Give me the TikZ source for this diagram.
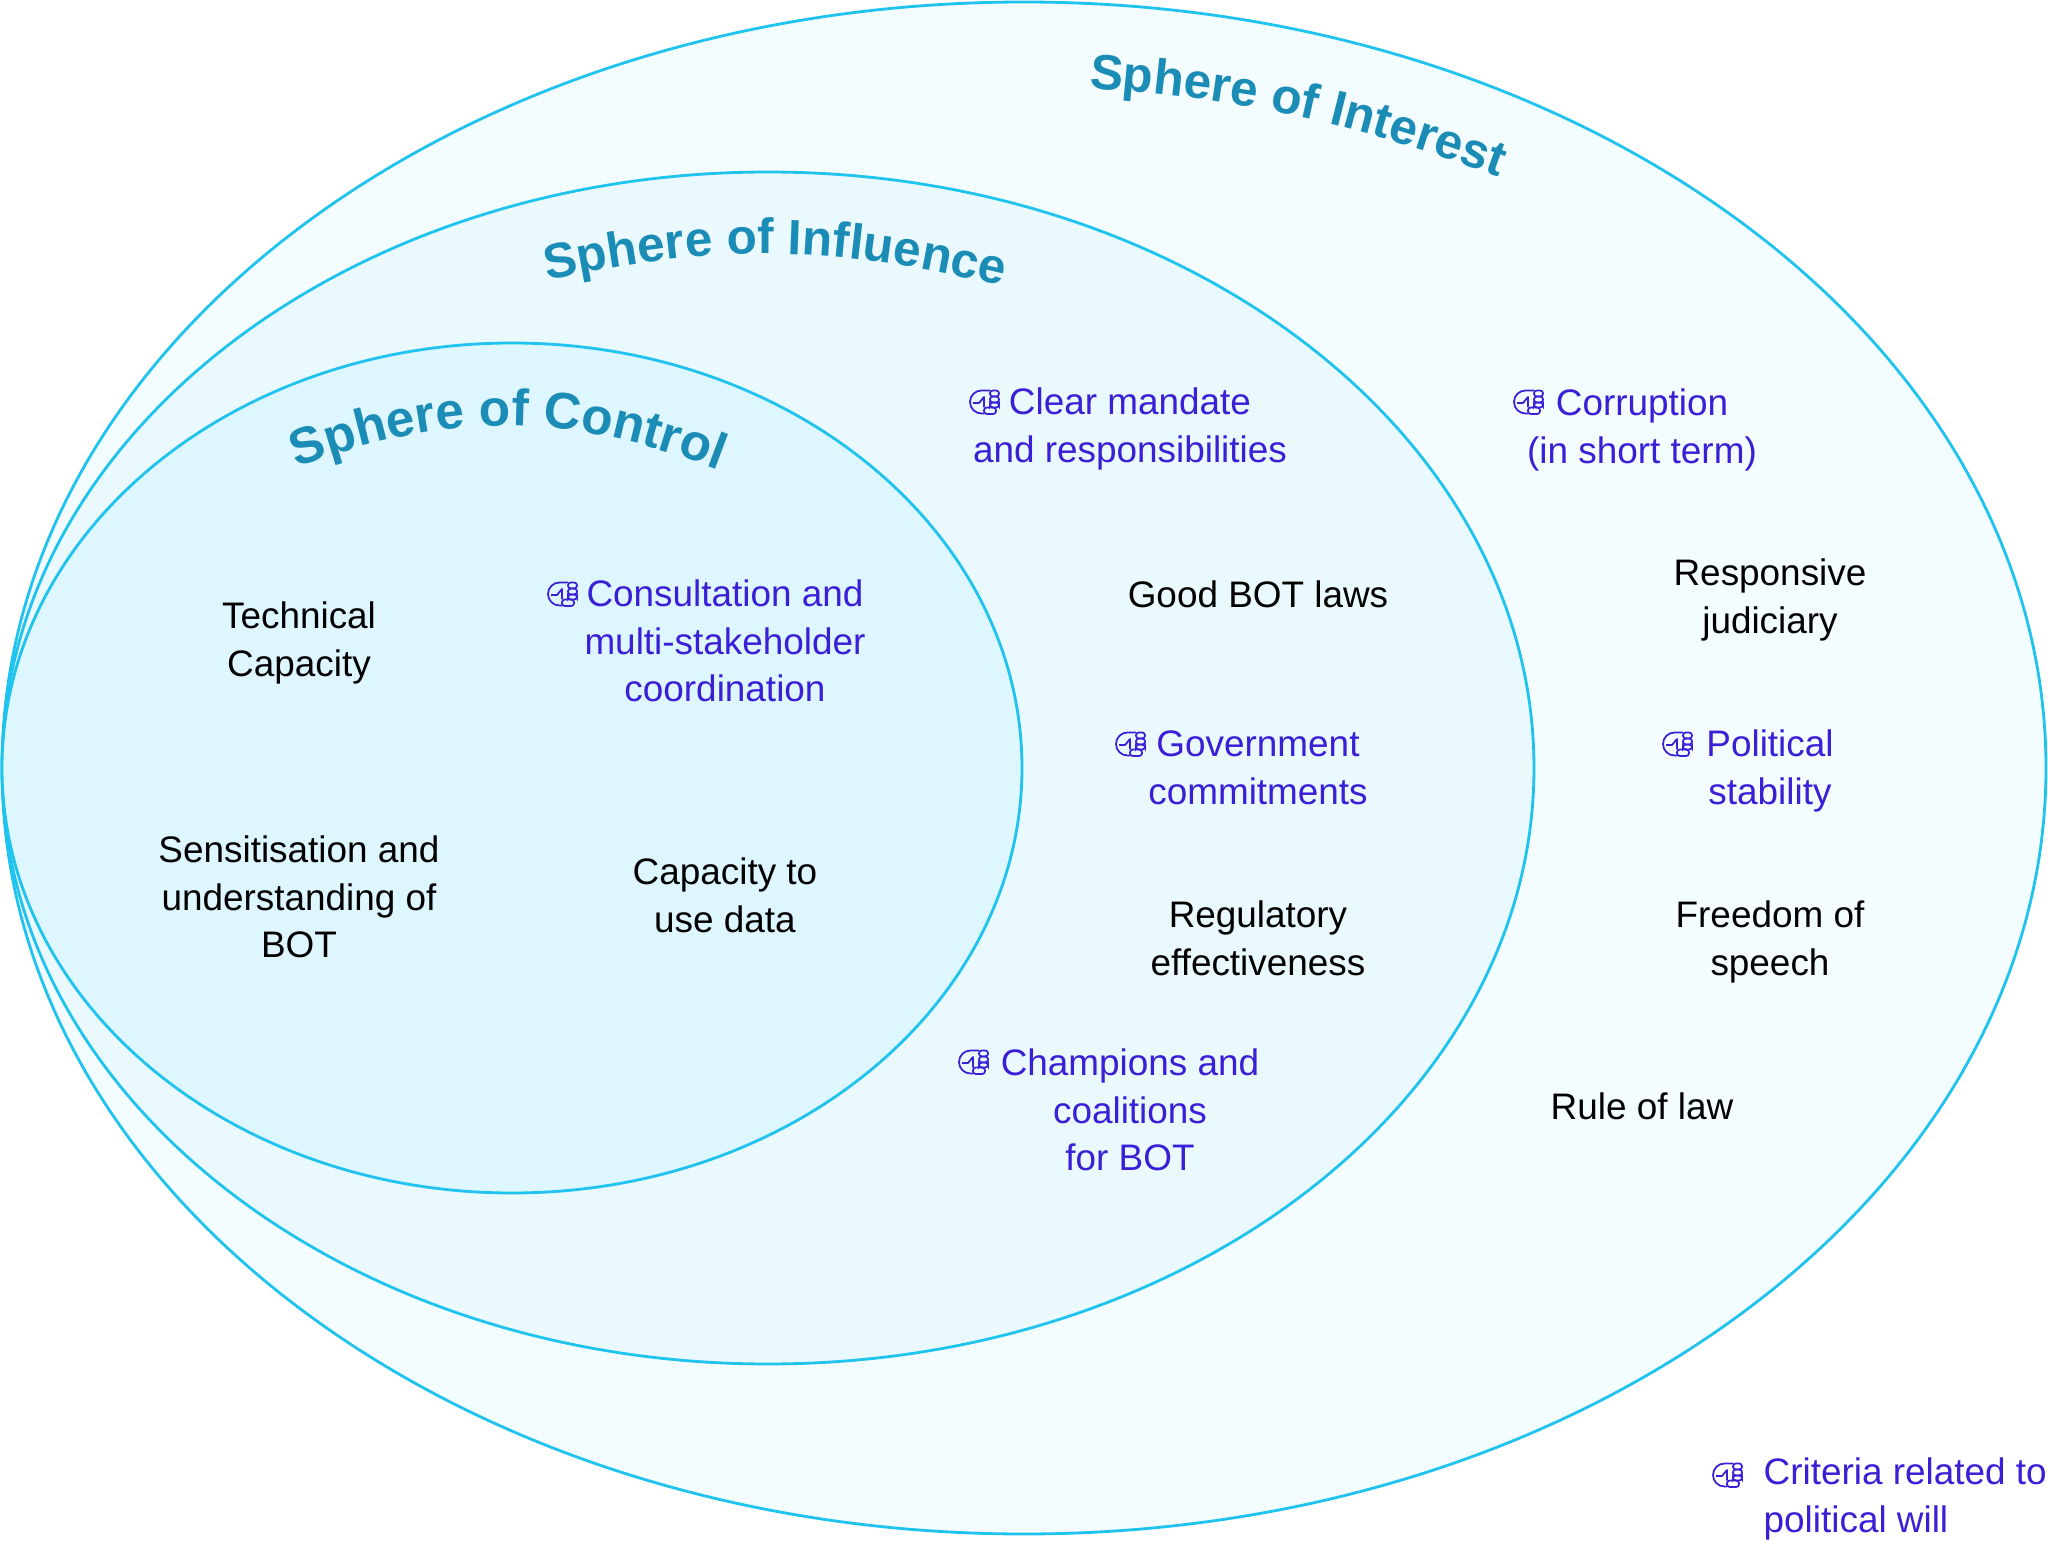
\documentclass[tikz,border=0pt]{standalone}
\usepackage{fontspec}
\setmainfont{Liberation Sans}
\usetikzlibrary{decorations.text}
\definecolor{sphereline}{HTML}{1FC3EE}
\definecolor{interestfill}{HTML}{F3FCFF}
\definecolor{influencefill}{HTML}{E9F9FE}
\definecolor{controlfill}{HTML}{DDF6FF}
\definecolor{titleblue}{HTML}{1A8CB5}
\definecolor{willblue}{HTML}{3A1FD6}
\newcommand{\titlefont}{\fontsize{14.1}{16}\selectfont\bfseries\color{titleblue}}
\newcommand{\bigtitlefont}{\fontsize{14.6}{16}\selectfont\bfseries\color{titleblue}}
\tikzset{
  sphere/.style={draw=sphereline, line width=.8pt},
  crit/.style={align=center, inner sep=0pt, font=\fontsize{10.5}{13.6}\selectfont},
  will/.style={crit, text=willblue},
  pics/fist/.style={code={
    \draw[willblue, line width=.5pt, line join=round] (.05,.115) -- (-.035,.115) arc (90:270:.115) -- (-.01,-.115);
    \foreach \fa/\fb in {.115/.055, .055/-.005, -.005/-.055}
      \draw[willblue, line width=.5pt, rounded corners=.8pt] (.05,\fa) rectangle (.14,\fb);
    \draw[willblue, line width=.5pt, rounded corners=.8pt] (-.01,-.055) rectangle (.11,-.12);
    \draw[willblue, line width=.5pt, line join=round] (-.12,-.01) -- (-.06,-.01) -- (-.01,.05) -- (-.01,-.055);
  }}
}

\begin{document}
\begin{tikzpicture}
\useasboundingbox (0,0) rectangle (20.48,15.40);

\draw[sphere, fill=interestfill] (10.24,7.72) ellipse (10.22 and 7.66);
\draw[sphere, fill=influencefill] (7.68,7.72) ellipse (7.66 and 5.96);
\draw[sphere, fill=controlfill] (5.12,7.72) ellipse (5.10 and 4.25);

\coordinate (intA) at (10.86,14.52);
\coordinate (intB) at (15.02,13.62);
\coordinate (infA) at (5.40,12.58);
\coordinate (infB) at (10.10,12.52);
\coordinate (conA) at (2.90,10.70);
\coordinate (conB) at (7.26,10.67);
\path[decorate, decoration={text along path, text align=center, text={|\titlefont|Sphere of Interest}}] (intA) to[bend left=8] (intB);
\path[decorate, decoration={text along path, text align=center, text={|\titlefont|Sphere of Influence}}] (infA) to[bend left=13] (infB);
\path[decorate, decoration={text along path, text align=center, text={|\bigtitlefont|Sphere of Control}}] (conA) to[bend left=21] (conB);

\node[crit] (tech) at (2.99,8.97) {Technical\\Capacity};
\node[crit] (sens) at (2.99,6.43) {Sensitisation and\\understanding of\\BOT};
\node[crit] (data) at (7.25,6.45) {Capacity to\\use data};
\node[will] (cons) at (7.25,8.99) {Consultation and\\multi-stakeholder\\coordination};

\node[will] (clear) at (11.30,11.11) {Clear mandate\\and responsibilities};
\node[crit] (laws) at (12.58,9.46) {Good BOT laws};
\node[will] (gov) at (12.58,7.72) {Government\\commitments};
\node[crit] (reg) at (12.58,6.02) {Regulatory\\effectiveness};
\node[will] (champ) at (11.30,4.30) {Champions and\\coalitions\\for BOT};

\node[will] (corr) at (16.42,11.10) {Corruption\\(in short term)};
\node[crit] (judi) at (17.70,9.40) {Responsive\\judiciary};
\node[will] (pol) at (17.70,7.69) {Political\\stability};
\node[crit] (free) at (17.70,5.98) {Freedom of\\speech};
\node[crit] (rule) at (16.42,4.34) {Rule of law};

\node[will, align=left, anchor=west] (key) at (17.63,0.41) {Criteria related to\\political will};

\pic at (5.63,9.46) {fist};
\pic at (9.85,11.38) {fist};
\pic at (11.31,7.96) {fist};
\pic at (9.74,4.78) {fist};
\pic at (15.29,11.38) {fist};
\pic at (16.78,7.96) {fist};
\pic at (17.28,0.65) {fist};

\end{tikzpicture}
\end{document}
